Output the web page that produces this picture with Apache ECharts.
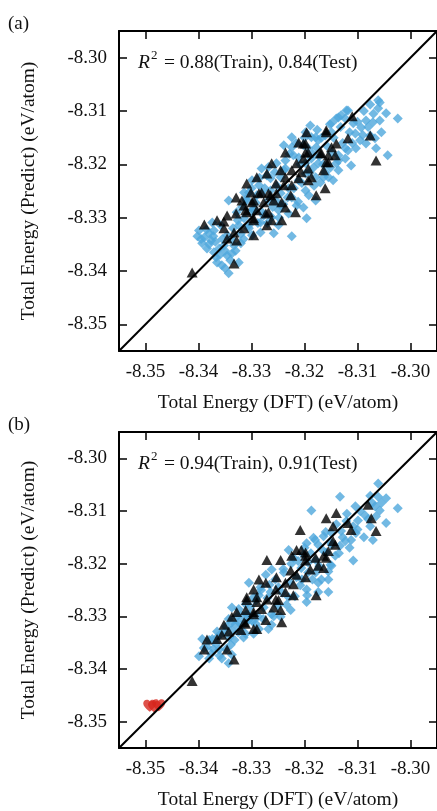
<!DOCTYPE html>
<html>
<head>
<meta charset="utf-8">
<script src="https://cdn.jsdelivr.net/npm/echarts@6/dist/echarts.min.js"></script>
<style>
  html, body { margin: 0; padding: 0; background: #fff; }
  #chart { width: 437px; height: 811px; }
</style>
</head>
<body>
<div id="chart"></div>
<script>
// Axis ticks and range shared by both parity plots (eV/atom)
const tickValues = [-8.35, -8.34, -8.33, -8.32, -8.31, -8.30];
const axisRange = [-8.355, -8.295];
const diagonal = [-8.355, -8.295];

// Panel (a): training set (blue diamonds) and test set (black triangles)
const trainA = [
[-8.3343,-8.3268],[-8.3399,-8.3324],[-8.3389,-8.3337],[-8.3376,-8.3343],[-8.3384,-8.3358],[-8.3371,-8.3365],[-8.3367,-8.3374],[-8.3346,-8.3371],[-8.3337,-8.3367],[-8.3356,-8.3389],[-8.3343,-8.3404],[-8.3324,-8.3384],[-8.3320,-8.3348],[-8.3299,-8.3333],[-8.3283,-8.3328],[-8.3258,-8.3329],[-8.3249,-8.3314],[-8.3314,-8.3301],[-8.3328,-8.3290],[-8.3296,-8.3286],[-8.3277,-8.3296],[-8.3305,-8.3253],[-8.3264,-8.3249],[-8.3245,-8.3277],[-8.3358,-8.3314],[-8.3393,-8.3348],[-8.3380,-8.3329],[-8.3371,-8.3324],[-8.3352,-8.3352],[-8.3365,-8.3384],[-8.3333,-8.3352],[-8.3374,-8.3309],[-8.3346,-8.3333],[-8.3402,-8.3335],[-8.3361,-8.3358],
[-8.3224,-8.3149],[-8.3179,-8.3149],[-8.3224,-8.3168],[-8.3178,-8.3168],[-8.3123,-8.3170],[-8.3136,-8.3193],[-8.3174,-8.3198],[-8.3155,-8.3224],[-8.3146,-8.3230],[-8.3170,-8.3234],[-8.3198,-8.3249],[-8.3179,-8.3268],[-8.3202,-8.3281],[-8.3224,-8.3262],[-8.3196,-8.3301],[-8.3230,-8.3292],[-8.3249,-8.3286],[-8.3215,-8.3277],[-8.3262,-8.3299],[-8.3245,-8.3224],[-8.3281,-8.3208],[-8.3299,-8.3230],[-8.3314,-8.3253],[-8.3286,-8.3239],[-8.3264,-8.3226],[-8.3254,-8.3268],[-8.3296,-8.3283],[-8.3230,-8.3245],[-8.3161,-8.3215],[-8.3151,-8.3206],[-8.3198,-8.3198],[-8.3211,-8.3187],[-8.3187,-8.3189],[-8.3236,-8.3193],[-8.3253,-8.3198],[-8.3281,-8.3254],[-8.3245,-8.3254],[-8.3179,-8.3224],[-8.3198,-8.3217],[-8.3224,-8.3335],
[-8.3058,-8.3084],[-8.3076,-8.3088],[-8.3061,-8.3095],[-8.3046,-8.3104],[-8.3024,-8.3114],[-8.3084,-8.3118],[-8.3071,-8.3121],[-8.3058,-8.3118],[-8.3118,-8.3099],[-8.3131,-8.3108],[-8.3140,-8.3114],[-8.3123,-8.3114],[-8.3108,-8.3123],[-8.3093,-8.3131],[-8.3104,-8.3142],[-8.3076,-8.3146],[-8.3067,-8.3151],[-8.3095,-8.3155],[-8.3118,-8.3174],[-8.3103,-8.3170],[-8.3084,-8.3161],[-8.3043,-8.3183],[-8.3136,-8.3183],[-8.3112,-8.3202],[-8.3136,-8.3211],[-8.3164,-8.3224],[-8.3183,-8.3206],[-8.3187,-8.3149],[-8.3174,-8.3155],[-8.3161,-8.3146],[-8.3149,-8.3140],[-8.3189,-8.3127],[-8.3198,-8.3140],[-8.3149,-8.3178],[-8.3123,-8.3189],[-8.3193,-8.3170],[-8.3136,-8.3112],[-8.3149,-8.3123],[-8.3061,-8.3080],[-8.3121,-8.3099],
[-8.3271,-8.3221],[-8.3239,-8.3211],[-8.3211,-8.3230],[-8.3221,-8.3183],[-8.3202,-8.3164],[-8.3239,-8.3164],[-8.3268,-8.3268],[-8.3290,-8.3258],[-8.3309,-8.3268],[-8.3283,-8.3309],[-8.3324,-8.3314],[-8.3305,-8.3314],
[-8.3395,-8.3340],[-8.3385,-8.3322],[-8.3380,-8.3350],[-8.3372,-8.3335],[-8.3368,-8.3345],[-8.3360,-8.3370],[-8.3355,-8.3340],[-8.3350,-8.3362],[-8.3350,-8.3395],[-8.3340,-8.3380],[-8.3338,-8.3340],[-8.3335,-8.3320],[-8.3330,-8.3362],[-8.3326,-8.3305],[-8.3320,-8.3330],[-8.3318,-8.3280],[-8.3315,-8.3340],[-8.3310,-8.3265],[-8.3305,-8.3320],[-8.3302,-8.3290],[-8.3300,-8.3245],[-8.3292,-8.3272],[-8.3288,-8.3310],[-8.3285,-8.3225],[-8.3280,-8.3290],[-8.3275,-8.3245],[-8.3270,-8.3310],[-8.3268,-8.3205],[-8.3260,-8.3280],[-8.3256,-8.3215],[-8.3252,-8.3240],[-8.3248,-8.3300],[-8.3240,-8.3275],[-8.3236,-8.3208],[-8.3232,-8.3262],[-8.3228,-8.3180],[-8.3220,-8.3245],[-8.3216,-8.3160],[-8.3212,-8.3270],[-8.3208,-8.3200],[-8.3205,-8.3235],[-8.3200,-8.3150],[-8.3192,-8.3258],[-8.3190,-8.3215],[-8.3185,-8.3180],[-8.3182,-8.3240],[-8.3176,-8.3135],[-8.3172,-8.3185],[-8.3168,-8.3150],[-8.3165,-8.3200],[-8.3158,-8.3165],[-8.3152,-8.3125],[-8.3145,-8.3150],[-8.3140,-8.3198],[-8.3132,-8.3130],[-8.3128,-8.3160],[-8.3115,-8.3140],[-8.3110,-8.3160],[-8.3100,-8.3120],[-8.3090,-8.3145],[-8.3088,-8.3100],[-8.3080,-8.3130],[-8.3070,-8.3105],[-8.3065,-8.3170],[-8.3055,-8.3140]
];
const testA = [
[-8.3329,-8.3262],[-8.3301,-8.3253],[-8.3281,-8.3253],[-8.3264,-8.3258],[-8.3296,-8.3268],[-8.3314,-8.3277],[-8.3311,-8.3286],[-8.3329,-8.3292],[-8.3346,-8.3296],[-8.3389,-8.3313],[-8.3365,-8.3305],[-8.3352,-8.3307],[-8.3296,-8.3301],[-8.3273,-8.3292],[-8.3314,-8.3320],[-8.3333,-8.3328],[-8.3352,-8.3320],[-8.3346,-8.3339],[-8.3328,-8.3343],[-8.3296,-8.3333],[-8.3262,-8.3305],[-8.3333,-8.3386],[-8.3412,-8.3403],
[-8.3196,-8.3140],[-8.3159,-8.3140],[-8.3211,-8.3159],[-8.3198,-8.3161],[-8.3140,-8.3161],[-8.3236,-8.3178],[-8.3193,-8.3178],[-8.3168,-8.3179],[-8.3142,-8.3183],[-8.3262,-8.3198],[-8.3215,-8.3198],[-8.3202,-8.3189],[-8.3155,-8.3196],[-8.3245,-8.3211],[-8.3224,-8.3211],[-8.3193,-8.3208],[-8.3164,-8.3211],[-8.3290,-8.3224],[-8.3271,-8.3217],[-8.3236,-8.3224],[-8.3211,-8.3226],[-8.3193,-8.3230],[-8.3254,-8.3236],[-8.3239,-8.3239],[-8.3224,-8.3239],[-8.3161,-8.3245],[-8.3309,-8.3236],[-8.3286,-8.3254],[-8.3268,-8.3254],[-8.3253,-8.3254],[-8.3226,-8.3258],[-8.3178,-8.3258],[-8.3318,-8.3268],[-8.3299,-8.3271],[-8.3277,-8.3271],[-8.3258,-8.3268],[-8.3243,-8.3271],[-8.3290,-8.3286],[-8.3268,-8.3290],[-8.3309,-8.3290],[-8.3243,-8.3305],[-8.3271,-8.3314],[-8.3296,-8.3305],[-8.3217,-8.3290],[-8.3236,-8.3281],
[-8.3110,-8.3110],[-8.3159,-8.3136],[-8.3076,-8.3146],[-8.3118,-8.3151],[-8.3149,-8.3168],[-8.3170,-8.3179],[-8.3155,-8.3183],[-8.3065,-8.3193],[-8.3202,-8.3161],[-8.3198,-8.3178],[-8.3159,-8.3196],[-8.3187,-8.3224],[-8.3206,-8.3215]
];

// Panel (b): training set, test set and the highlighted structures (hearts)
const trainB = [
[-8.3337,-8.3283],[-8.3311,-8.3277],[-8.3328,-8.3301],[-8.3343,-8.3305],[-8.3305,-8.3307],[-8.3320,-8.3324],[-8.3337,-8.3326],[-8.3348,-8.3320],[-8.3358,-8.3333],[-8.3374,-8.3343],[-8.3393,-8.3343],[-8.3384,-8.3358],[-8.3399,-8.3376],[-8.3380,-8.3380],[-8.3361,-8.3363],[-8.3339,-8.3354],[-8.3356,-8.3380],[-8.3343,-8.3389],[-8.3337,-8.3373],[-8.3296,-8.3333],[-8.3286,-8.3324],[-8.3376,-8.3371],[-8.3367,-8.3352],[-8.3309,-8.3296],
[-8.3305,-8.3236],[-8.3262,-8.3211],[-8.3230,-8.3174],[-8.3206,-8.3208],[-8.3179,-8.3217],[-8.3168,-8.3230],[-8.3155,-8.3230],[-8.3149,-8.3204],[-8.3196,-8.3273],[-8.3196,-8.3249],[-8.3174,-8.3236],[-8.3226,-8.3288],[-8.3245,-8.3301],[-8.3262,-8.3316],[-8.3292,-8.3314],[-8.3311,-8.3333],[-8.3268,-8.3324],[-8.3286,-8.3260],[-8.3264,-8.3254],[-8.3208,-8.3241],[-8.3262,-8.3296],[-8.3305,-8.3296],[-8.3273,-8.3221],[-8.3174,-8.3254],[-8.3155,-8.3254],
[-8.3061,-8.3048],[-8.3076,-8.3071],[-8.3061,-8.3073],[-8.3046,-8.3076],[-8.3133,-8.3073],[-8.3187,-8.3099],[-8.3104,-8.3091],[-8.3067,-8.3091],[-8.3058,-8.3099],[-8.3024,-8.3095],[-8.3086,-8.3108],[-8.3099,-8.3118],[-8.3046,-8.3123],[-8.3076,-8.3129],[-8.3121,-8.3119],[-8.3108,-8.3129],[-8.3071,-8.3155],[-8.3103,-8.3142],[-8.3112,-8.3155],[-8.3131,-8.3138],[-8.3149,-8.3142],[-8.3164,-8.3148],[-8.3183,-8.3151],[-8.3196,-8.3161],[-8.3174,-8.3164],[-8.3149,-8.3164],[-8.3133,-8.3166],[-8.3123,-8.3157],[-8.3108,-8.3194],[-8.3142,-8.3185],[-8.3159,-8.3179],[-8.3202,-8.3183],[-8.3179,-8.3193],[-8.3151,-8.3202],[-8.3193,-8.3198],
[-8.3249,-8.3245],[-8.3230,-8.3264],[-8.3277,-8.3283],[-8.3296,-8.3264],[-8.3324,-8.3286],[-8.3239,-8.3217],[-8.3215,-8.3226],[-8.3283,-8.3245],[-8.3324,-8.3311],[-8.3365,-8.3329],[-8.3221,-8.3189],[-8.3193,-8.3217],
[-8.3390,-8.3360],[-8.3380,-8.3345],[-8.3372,-8.3362],[-8.3365,-8.3340],[-8.3360,-8.3375],[-8.3352,-8.3330],[-8.3348,-8.3362],[-8.3342,-8.3340],[-8.3338,-8.3312],[-8.3332,-8.3345],[-8.3330,-8.3315],[-8.3325,-8.3330],[-8.3318,-8.3298],[-8.3315,-8.3340],[-8.3312,-8.3310],[-8.3302,-8.3282],[-8.3298,-8.3310],[-8.3292,-8.3270],[-8.3288,-8.3300],[-8.3282,-8.3250],[-8.3278,-8.3305],[-8.3270,-8.3265],[-8.3266,-8.3240],[-8.3258,-8.3300],[-8.3255,-8.3230],[-8.3250,-8.3280],[-8.3242,-8.3255],[-8.3240,-8.3210],[-8.3234,-8.3278],[-8.3228,-8.3235],[-8.3225,-8.3200],[-8.3218,-8.3262],[-8.3212,-8.3195],[-8.3205,-8.3230],[-8.3200,-8.3170],[-8.3195,-8.3260],[-8.3188,-8.3180],[-8.3185,-8.3230],[-8.3180,-8.3155],[-8.3172,-8.3205],[-8.3165,-8.3175],[-8.3160,-8.3140],[-8.3155,-8.3215],[-8.3150,-8.3160],[-8.3140,-8.3125],[-8.3135,-8.3180],[-8.3128,-8.3150],[-8.3120,-8.3105],[-8.3115,-8.3170],[-8.3100,-8.3135],[-8.3095,-8.3100],[-8.3088,-8.3150],[-8.3080,-8.3115],[-8.3072,-8.3085],[-8.3065,-8.3110],[-8.3055,-8.3085]
];
const testB = [
[-8.3309,-8.3269],[-8.3290,-8.3273],[-8.3271,-8.3268],[-8.3254,-8.3268],[-8.3245,-8.3288],[-8.3328,-8.3292],[-8.3296,-8.3292],[-8.3337,-8.3301],[-8.3311,-8.3314],[-8.3352,-8.3316],[-8.3320,-8.3326],[-8.3290,-8.3324],[-8.3365,-8.3343],[-8.3343,-8.3329],[-8.3384,-8.3344],[-8.3389,-8.3363],[-8.3346,-8.3363],[-8.3333,-8.3382],[-8.3412,-8.3423],[-8.3356,-8.3335],
[-8.3271,-8.3193],[-8.3245,-8.3193],[-8.3224,-8.3185],[-8.3215,-8.3174],[-8.3198,-8.3179],[-8.3198,-8.3194],[-8.3179,-8.3189],[-8.3142,-8.3164],[-8.3155,-8.3176],[-8.3159,-8.3189],[-8.3164,-8.3208],[-8.3226,-8.3213],[-8.3215,-8.3221],[-8.3198,-8.3226],[-8.3189,-8.3211],[-8.3253,-8.3226],[-8.3286,-8.3230],[-8.3273,-8.3236],[-8.3236,-8.3236],[-8.3221,-8.3239],[-8.3254,-8.3249],[-8.3236,-8.3254],[-8.3221,-8.3260],[-8.3296,-8.3249],[-8.3309,-8.3264],[-8.3290,-8.3264],[-8.3249,-8.3269],[-8.3281,-8.3286],[-8.3258,-8.3283],[-8.3311,-8.3288],[-8.3296,-8.3296],[-8.3273,-8.3307],[-8.3314,-8.3311],[-8.3178,-8.3260],[-8.3243,-8.3311],[-8.3296,-8.3324],
[-8.3080,-8.3088],[-8.3140,-8.3104],[-8.3159,-8.3114],[-8.3074,-8.3114],[-8.3118,-8.3123],[-8.3112,-8.3136],[-8.3146,-8.3129],[-8.3065,-8.3138],[-8.3208,-8.3136],[-8.3146,-8.3157],[-8.3206,-8.3174],[-8.3198,-8.3185],[-8.3164,-8.3185],[-8.3174,-8.3204]
];
const heartsB = [[-8.3492,-8.3470],[-8.3483,-8.3472],[-8.3475,-8.3469]];

const r2Texts = [
  { train: '0.88', test: '0.84' },
  { train: '0.94', test: '0.91' }
];

const FONT = '"Liberation Serif", "Times New Roman", Times, serif';
const INK = '#111';
const BLUE = '#4FA7DC';
const HEART = 'path://M12,21.35l-1.45-1.32C5.4,15.36,2,12.28,2,8.5C2,5.42,4.42,3,7.5,3c1.74,0,3.41,0.81,4.5,2.09C13.09,3.81,14.76,3,16.5,3C19.58,3,22,5.42,22,8.5c0,3.78-3.4,6.86-8.55,11.54L12,21.35z';

const grids = [
  { left: 119, top: 31, width: 320, height: 320 },
  { left: 119, top: 432, width: 320, height: 320 }
];

function frameAxis(gridIndex, position, withLabels, extra) {
  return Object.assign({
    type: 'value', gridIndex, position,
    min: axisRange[0], max: axisRange[1],
    axisLine: { show: true, onZero: false, lineStyle: { color: '#000', width: 2 } },
    axisTick: { show: true, inside: true, length: 8, customValues: tickValues,
                lineStyle: { color: '#000', width: 1.5 } },
    axisLabel: { show: withLabels, customValues: tickValues, margin: 12,
                 formatter: v => v.toFixed(2),
                 fontFamily: FONT, fontSize: 19, color: INK },
    splitLine: { show: false }
  }, extra || {});
}

const xAxis = [], yAxis = [];
grids.forEach((g, i) => {
  xAxis.push(frameAxis(i, 'bottom', true, {
    name: 'Total Energy (DFT) (eV/atom)', nameLocation: 'middle', nameGap: 42,
    nameTextStyle: { fontFamily: FONT, fontSize: 19.5, color: INK }
  }));
  xAxis.push(frameAxis(i, 'top', false));
  yAxis.push(frameAxis(i, 'left', true, {
    name: 'Total Energy (Predict) (eV/atom)', nameLocation: 'middle', nameGap: 80,
    nameRotate: 90,
    nameTextStyle: { fontFamily: FONT, fontSize: 19.5, color: INK }
  }));
  yAxis.push(frameAxis(i, 'right', false));
});

function panelSeries(i, train, test, hearts) {
  const ax = { xAxisIndex: 2 * i, yAxisIndex: 2 * i };
  const s = [
    Object.assign({ type: 'scatter', data: train, symbol: 'diamond', symbolSize: 10,
      itemStyle: { color: BLUE }, z: 2, silent: true }, ax)
  ];
  if (hearts) {
    s.push(Object.assign({ type: 'scatter', data: hearts, symbol: HEART, symbolSize: [13, 12],
      itemStyle: { color: '#D6261D' }, z: 3, silent: true }, ax));
  }
  s.push(Object.assign({ type: 'line', data: [[diagonal[0], diagonal[0]], [diagonal[1], diagonal[1]]],
    symbol: 'none', lineStyle: { color: '#000', width: 2 }, z: 4, silent: true, clip: true }, ax));
  s.push(Object.assign({ type: 'scatter', data: test, symbol: 'triangle', symbolSize: [11, 10],
    itemStyle: { color: '#000' }, z: 5, silent: true }, ax));
  return s;
}

// Panel letters and the R^2 annotation (italic R, raised 2, then the scores)
const graphic = [];
['(a)', '(b)'].forEach((t, i) => {
  const top = grids[i].top;
  graphic.push({ type: 'text', left: 8, top: top - 16,
    style: { text: t, font: '19px ' + FONT, fill: INK } });
  graphic.push({ type: 'text', x: 138, y: top + 32,
    style: { text: 'R', font: 'italic 19.5px ' + FONT, fill: INK, verticalAlign: 'middle' } });
  graphic.push({ type: 'text', x: 151, y: top + 25,
    style: { text: '2', font: '13px ' + FONT, fill: INK, verticalAlign: 'middle' } });
  graphic.push({ type: 'text', x: 159, y: top + 32,
    style: { text: ' = ' + r2Texts[i].train + '(Train), ' + r2Texts[i].test + '(Test)',
             font: '19.5px ' + FONT, fill: INK, verticalAlign: 'middle' } });
});

const chart = echarts.init(document.getElementById('chart'), null, { renderer: 'canvas' });
chart.setOption({
  animation: false,
  backgroundColor: '#fff',
  grid: grids,
  xAxis, yAxis,
  graphic,
  series: [].concat(panelSeries(0, trainA, testA), panelSeries(1, trainB, testB, heartsB))
});
</script>
</body>
</html>
